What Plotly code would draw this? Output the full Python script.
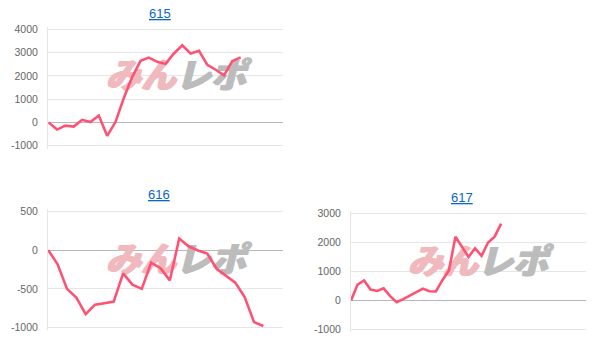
import plotly.graph_objects as go

# ---- data ----
titles = ["615", "616", "617"]
vals_615 = [0, -310, -140, -183, 110, 15, 296, -580, 14, 1050, 1950, 2650,
            2790, 2610, 2520, 2970, 3320, 2970, 3085, 2480, 2268, 2028, 2648, 2800]
vals_616 = [0, -182, -500, -614, -826, -705, -685, -665, -301, -445, -500, -161,
            -233, -390, 150, 50, -5, -43, -240, -331, -420, -607, -930, -980]
vals_617 = [0, 550, 690, 375, 330, 420, 150, -60, 45, 160, 270, 410,
            320, 310, 700, 1030, 2200, 1830, 1500, 1800, 1540, 2000, 2200, 2650]
ticks_615 = [-1000, 0, 1000, 2000, 3000, 4000]
ticks_616 = [-1000, -500, 0, 500]
ticks_617 = [-1000, 0, 1000, 2000, 3000]
wm_parts = ["みん", "レポ"]

W, H = 605, 362
LINE = "#ff5273"
GRID = "#e6e6e6"
ZERO = "#b8b8b8"
WM_COLORS = ["#efb9be", "#bcbcbc"]

fig = go.Figure()

panels = [
    # (values, ticks, xdomain px, ydomain px (top,bottom), xrange, title px, watermark centre px)
    (vals_615, ticks_615, (48, 283), (27, 145), (-0.08, 28.06), (160, 11), (175, 78)),
    (vals_616, ticks_616, (48, 283), (212, 330), (-0.03, 25.1), (159, 195), (175, 265)),
    (vals_617, ticks_617, (351, 586), (214, 332), (0.0, 36.0), (462, 198), (477, 267)),
]

PAD = 3  # px padding so edge gridlines are drawn
annotations = []
for i, (vals, ticks, xd, yd, xr, tpos, wpos) in enumerate(panels):
    n = i + 1
    xa = "x" if n == 1 else f"x{n}"
    ya = "y" if n == 1 else f"y{n}"
    lo, hi = min(ticks), max(ticks)
    span = hi - lo
    hpx = yd[1] - yd[0]
    ext = PAD / hpx * span
    yr = [lo - ext, hi + ext]

    def px_to_x(px):
        return xr[0] + (px - xd[0]) / (xd[1] - xd[0]) * (xr[1] - xr[0])

    def px_to_y(py):
        return hi - (py - yd[0]) / hpx * span

    # watermark (drawn first so the line sits above it)
    for k, part in enumerate(wm_parts):
        cx = wpos[0] + (-34 if k == 0 else 36)
        fig.add_trace(go.Scatter(
            x=[px_to_x(cx)], y=[px_to_y(wpos[1])], mode="text", text=[part],
            textposition="middle center", cliponaxis=False,
            textfont=dict(family="Noto Sans CJK JP", size=35, color=WM_COLORS[k],
                          weight=900, style="italic",
                          shadow=f"1px 0px 0px {WM_COLORS[k]}, -1px 0px 0px {WM_COLORS[k]}"),
            xaxis=xa, yaxis=ya, showlegend=False, hoverinfo="skip"))

    fig.add_trace(go.Scatter(
        x=list(range(len(vals))), y=vals, mode="lines",
        line=dict(color=LINE, width=2.6), xaxis=xa, yaxis=ya,
        showlegend=False, hoverinfo="skip"))
    xkey = "xaxis" if n == 1 else f"xaxis{n}"
    ykey = "yaxis" if n == 1 else f"yaxis{n}"
    fig.layout[xkey] = dict(
        domain=[xd[0] / W, xd[1] / W], range=list(xr), anchor=ya,
        showgrid=False, zeroline=False, showticklabels=False, showline=False,
        fixedrange=True)
    fig.layout[ykey] = dict(
        domain=[1 - (yd[1] + PAD) / H, 1 - (yd[0] - PAD) / H], anchor=xa,
        range=yr,
        tickvals=ticks, ticktext=[str(t) for t in ticks],
        showgrid=True, gridcolor=GRID, gridwidth=1,
        zeroline=True, zerolinecolor=ZERO, zerolinewidth=1,
        showline=True, linecolor=GRID, linewidth=1,
        ticks="outside", ticklen=7, tickcolor="rgba(0,0,0,0)",
        tickfont=dict(family="Liberation Sans, Arial", size=10.5, color="#666666"),
        fixedrange=True)
    annotations.append(dict(
        x=tpos[0] / W, y=1 - tpos[1] / H, xref="paper", yref="paper",
        xanchor="center", yanchor="middle", showarrow=False,
        text=f"<span style='text-decoration:underline'>{titles[i]}</span>",
        font=dict(family="Liberation Sans, Arial", size=13, color="#0a66c8")))

fig.update_layout(
    width=W, height=H, margin=dict(l=0, r=0, t=0, b=0),
    paper_bgcolor="white", plot_bgcolor="white",
    annotations=annotations)

fig.write_html("out.html", config={"displayModeBar": False})
